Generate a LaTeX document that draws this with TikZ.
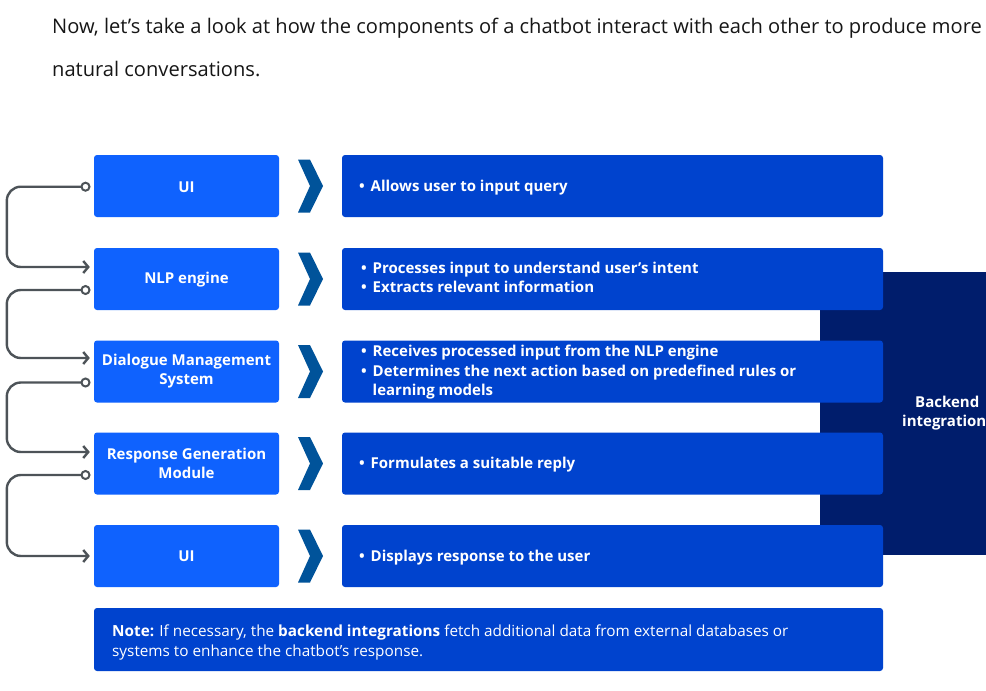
\documentclass[tikz,border=0pt]{standalone}
\usepackage{fontspec}
\setmainfont{Open Sans}
\usetikzlibrary{arrows.meta,calc}
\definecolor{lblue}{HTML}{0F62FE}
\definecolor{rblue}{HTML}{0043CE}
\definecolor{dblue}{HTML}{001D6C}
\definecolor{chev}{HTML}{00539A}
\definecolor{conncol}{HTML}{4D5358}
\definecolor{txt}{HTML}{161616}
\newcommand\bul{\makebox[11.5pt][l]{\textbullet}}
\begin{document}
\begin{tikzpicture}[x=1pt,y=-1pt,
  leftbox/.style={fill=lblue, rounded corners=3pt, minimum width=185pt, minimum height=62pt, inner sep=0pt},
  ltext/.style={text=white, font=\fontsize{15}{19}\selectfont\bfseries, align=center, inner sep=0pt},
  rightbox/.style={fill=rblue, rounded corners=3pt, minimum width=541pt, minimum height=62pt, inner sep=0pt},
  rtext/.style={text=white, font=\fontsize{15}{19.5}\selectfont\bfseries, align=left, anchor=west, inner sep=0pt},
  chevpic/.pic={\fill[chev] (-12.5,-26.5) -- (-0.5,-26.5) -- (12.5,0) -- (-0.5,26.5) -- (-12.5,26.5) -- (-0.5,0) -- cycle;},
  connline/.style={draw=conncol, line width=2.4pt, rounded corners=14pt},
  arr/.style={-{Straight Barb[length=5pt,width=12pt,line width=2.4pt]}},
  dot/.style={circle, draw=conncol, fill=white, line width=2pt, minimum size=8pt, inner sep=0pt},
  toptext/.style={anchor=west, inner sep=0pt, text=txt, font=\fontsize{20.1}{24}\selectfont}
]
\useasboundingbox (0,0) rectangle (986,691);
\fill[white] (0,0) rectangle (986,691);

\node[toptext] (t1) at (52,28) {Now, let’s take a look at how the components of a chatbot interact with each other to produce more};
\node[toptext] (t2) at (52,69) {natural conversations.};

% backend
\node[fill=dblue, minimum width=170pt, minimum height=283pt, anchor=north west, inner sep=0pt] (backend) at (820,272) {};
\node[text=white, font=\fontsize{15}{19.5}\selectfont\bfseries, align=left, inner sep=0pt, anchor=west] (backendtxt) at (902,413) {\hspace*{13pt}Backend\\integration};

% left boxes
\node[leftbox] (ui1) at (186.5,186) {};
\node[leftbox] (nlp) at (186.5,279) {};
\node[leftbox] (dms) at (186.5,371.5) {};
\node[leftbox] (rgm) at (186.5,463.5) {};
\node[leftbox] (ui2) at (186.5,556) {};
\node[ltext] (ui1t) at (186.5,187) {UI};
\node[ltext] (nlpt) at (186.5,279.5) {NLP engine};
\node[ltext] (dmst) at (186.5,371.5) {Dialogue Management\\System};
\node[ltext] (rgmt) at (186.5,463.5) {Response Generation\\Module};
\node[ltext] (ui2t) at (186.5,556.5) {UI};

% chevrons
\pic at (310.5,186) {chevpic};
\pic at (310.5,279) {chevpic};
\pic at (310.5,371.5) {chevpic};
\pic at (310.5,463.5) {chevpic};
\pic at (310.5,556) {chevpic};

% right boxes
\node[rightbox] (r1) at (612.5,186) {};
\node[rightbox] (r2) at (612.5,279) {};
\node[rightbox] (r3) at (612.5,371.5) {};
\node[rightbox] (r4) at (612.5,463.5) {};
\node[rightbox] (r5) at (612.5,556) {};

\node[rtext] (r1t) at (359,187.5) {\bul Allows user to input query};
\node[rtext] (r2t) at (361,277.5) {\bul Processes input to understand user's intent\\\bul Extracts relevant information};
\node[rtext] (r3t) at (361,372.5) {\bul Receives processed input from the NLP engine\\\bul Determines the next action based on predefined rules or\\\hspace*{11.5pt}learning models};
\node[rtext] (r4t) at (359,465) {\bul Formulates a suitable reply};
\node[rtext] (r5t) at (359,557.5) {\bul Displays response to the user};

% note
\node[fill=rblue, rounded corners=3pt, minimum width=789pt, minimum height=63pt, inner sep=0pt] (note) at (488.5,639.5) {};
\node[anchor=west, inner sep=0pt, text=white, align=left, font=\fontsize{15.3}{20}\selectfont] (notetxt) at (112,642)
  {\textbf{Note:} If necessary, the \textbf{backend integrations} fetch additional data from external databases or\\systems to enhance the chatbot’s response.};

% connectors
\coordinate (o1) at ($(ui1.west)+(-8.3,0.7)$);
\coordinate (a2) at ($(nlp.west)+(-4,-12)$);
\coordinate (o2) at ($(nlp.west)+(-8.3,11)$);
\coordinate (a3) at ($(dms.west)+(-4,-13.5)$);
\coordinate (o3) at ($(dms.west)+(-8.3,11)$);
\coordinate (a4) at ($(rgm.west)+(-4,-11.5)$);
\coordinate (o4) at ($(rgm.west)+(-8.3,11.5)$);
\coordinate (a5) at ($(ui2.west)+(-4,0)$);

\draw[connline,arr] (o1) -- ++(-78.7,0) |- (a2);
\draw[connline,arr] (o2) -- ++(-78.7,0) |- (a3);
\draw[connline,arr] (o3) -- ++(-78.7,0) |- (a4);
\draw[connline,arr] (o4) -- ++(-78.7,0) |- (a5);
\node[dot] (d1) at (o1) {};
\node[dot] (d2) at (o2) {};
\node[dot] (d3) at (o3) {};
\node[dot] (d4) at (o4) {};
\end{tikzpicture}
\end{document}
